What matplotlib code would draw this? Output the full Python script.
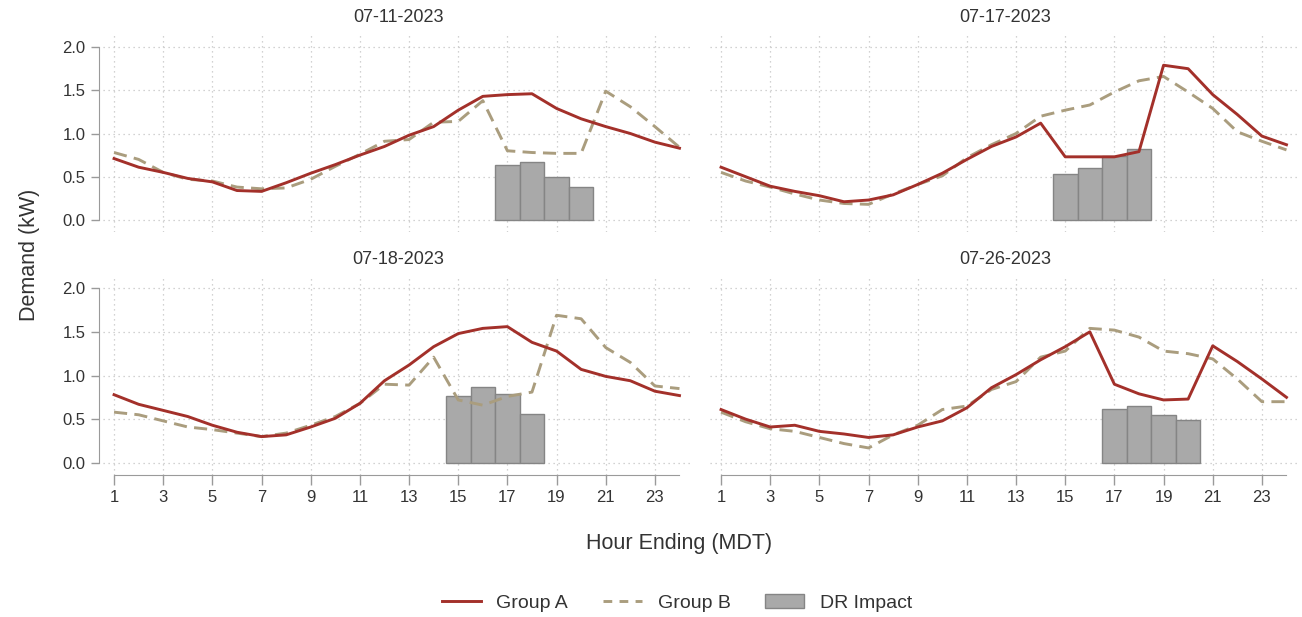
import numpy as np
import matplotlib.pyplot as plt
from matplotlib.lines import Line2D
from matplotlib.patches import Patch

plt.rcParams['font.family'] = ['Liberation Sans', 'DejaVu Sans']

hours = np.arange(1, 25)
dates = ["07-11-2023", "07-17-2023", "07-18-2023", "07-26-2023"]

group_a_0711 = [0.71, 0.61, 0.55, 0.48, 0.44, 0.34, 0.33, 0.43, 0.54, 0.64, 0.75, 0.85,
                0.98, 1.08, 1.27, 1.43, 1.45, 1.46, 1.29, 1.17, 1.08, 1.00, 0.90, 0.83]
group_b_0711 = [0.78, 0.70, 0.55, 0.47, 0.45, 0.38, 0.36, 0.37, 0.47, 0.62, 0.76, 0.91,
                0.93, 1.13, 1.14, 1.38, 0.80, 0.78, 0.77, 0.77, 1.49, 1.31, 1.08, 0.84]
group_a_0717 = [0.61, 0.50, 0.39, 0.33, 0.28, 0.21, 0.23, 0.29, 0.41, 0.54, 0.70, 0.85,
                0.96, 1.12, 0.73, 0.73, 0.73, 0.79, 1.79, 1.75, 1.45, 1.22, 0.97, 0.87]
group_b_0717 = [0.55, 0.45, 0.38, 0.30, 0.23, 0.19, 0.18, 0.30, 0.41, 0.51, 0.72, 0.87,
                1.00, 1.20, 1.27, 1.33, 1.48, 1.61, 1.66, 1.48, 1.29, 1.02, 0.91, 0.81]
group_a_0718 = [0.78, 0.67, 0.60, 0.53, 0.43, 0.35, 0.30, 0.32, 0.41, 0.51, 0.68, 0.94,
                1.12, 1.33, 1.48, 1.54, 1.56, 1.38, 1.28, 1.07, 0.99, 0.94, 0.82, 0.77]
group_b_0718 = [0.58, 0.55, 0.48, 0.41, 0.38, 0.34, 0.30, 0.34, 0.43, 0.53, 0.68, 0.90,
                0.89, 1.21, 0.72, 0.66, 0.76, 0.81, 1.69, 1.65, 1.32, 1.15, 0.88, 0.85]
group_a_0726 = [0.61, 0.50, 0.41, 0.43, 0.36, 0.33, 0.29, 0.32, 0.41, 0.48, 0.63, 0.86,
                1.01, 1.18, 1.33, 1.50, 0.90, 0.79, 0.72, 0.73, 1.34, 1.16, 0.96, 0.75]
group_b_0726 = [0.58, 0.47, 0.39, 0.36, 0.29, 0.22, 0.17, 0.32, 0.43, 0.61, 0.65, 0.84,
                0.93, 1.21, 1.28, 1.54, 1.52, 1.44, 1.28, 1.25, 1.19, 0.96, 0.70, 0.70]

event_hours = [[17, 18, 19, 20], [15, 16, 17, 18], [15, 16, 17, 18], [17, 18, 19, 20]]
dr_impact = [[0.64, 0.67, 0.50, 0.38],
             [0.53, 0.60, 0.74, 0.82],
             [0.76, 0.87, 0.79, 0.56],
             [0.62, 0.65, 0.55, 0.49]]

group_a = [group_a_0711, group_a_0717, group_a_0718, group_a_0726]
group_b = [group_b_0711, group_b_0717, group_b_0718, group_b_0726]

red = "#a3302a"
tan = "#aa9d7e"
bar_fill = "#a9a9a9"
bar_edge = "#858585"
txt = "#333333"

fig = plt.figure(figsize=(13.02, 6.17), dpi=100)
W, H = 1302, 617

# axes boxes in pixels: left, top, width, height
boxes = [(103, 35, 590, 197), (710, 35, 590, 197),
         (103, 276, 590, 199), (710, 276, 590, 199)]

for i, (l, t, w, h) in enumerate(boxes):
    ax = fig.add_axes([l / W, 1 - (t + h) / H, w / W, h / H])
    ax.bar(event_hours[i], dr_impact[i], width=1.0, color=bar_fill,
           edgecolor=bar_edge, linewidth=1.0, zorder=2)
    ax.plot(hours, group_a[i], color=red, lw=2.1, zorder=4)
    ax.plot(hours, group_b[i], color=tan, lw=2.1, ls=(0, (4.5, 2.5)), zorder=3)

    ax.set_xlim(0.55, 24.55)
    ax.set_ylim(-0.14, 2.14)
    ax.set_xticks(np.arange(1, 24, 2))
    ax.set_yticks([0, 0.5, 1.0, 1.5, 2.0])
    ax.grid(True, ls=(0, (1, 3)), color="#c4c4c4", lw=0.9, zorder=0)
    ax.set_axisbelow(True)
    ax.set_title(dates[i], fontsize=13, color=txt, pad=9)

    for s in ["top", "right"]:
        ax.spines[s].set_visible(False)

    if i % 2 == 0:
        ax.spines["left"].set_position(("outward", 3))
        ax.spines["left"].set_bounds(0, 2)
        ax.spines["left"].set_color("#9a9a9a")
        ax.set_yticklabels(["0.0", "0.5", "1.0", "1.5", "2.0"])
        ax.tick_params(axis="y", colors="#9a9a9a", labelcolor=txt,
                       labelsize=12, length=6, width=1)
    else:
        ax.spines["left"].set_visible(False)
        ax.tick_params(axis="y", left=False, labelleft=False)

    if i >= 2:
        ax.spines["bottom"].set_bounds(1, 24)
        ax.spines["bottom"].set_color("#9a9a9a")
        ax.tick_params(axis="x", colors="#9a9a9a", labelcolor=txt,
                       labelsize=12, length=7, width=1)
    else:
        ax.spines["bottom"].set_visible(False)
        ax.tick_params(axis="x", bottom=False, labelbottom=False)

fig.text(30 / W, 1 - 255 / H, "Demand (kW)", rotation=90, ha="center",
         va="center", fontsize=15.5, color=txt)
fig.text(679 / W, 1 - 543 / H, "Hour Ending (MDT)", ha="center",
         va="center", fontsize=15.5, color=txt)

handles = [Line2D([], [], color=red, lw=2.1),
           Line2D([], [], color=tan, lw=2.1, ls=(0, (3, 2.5))),
           Patch(facecolor=bar_fill, edgecolor=bar_edge)]
fig.legend(handles, ["Group A", "Group B", "DR Impact"], loc="center",
           bbox_to_anchor=(677 / W, 1 - 603 / H), ncol=3, frameon=False,
           fontsize=14, handlelength=2.0, columnspacing=1.8,
           labelcolor=txt)

fig.savefig("out.png", dpi=100)
